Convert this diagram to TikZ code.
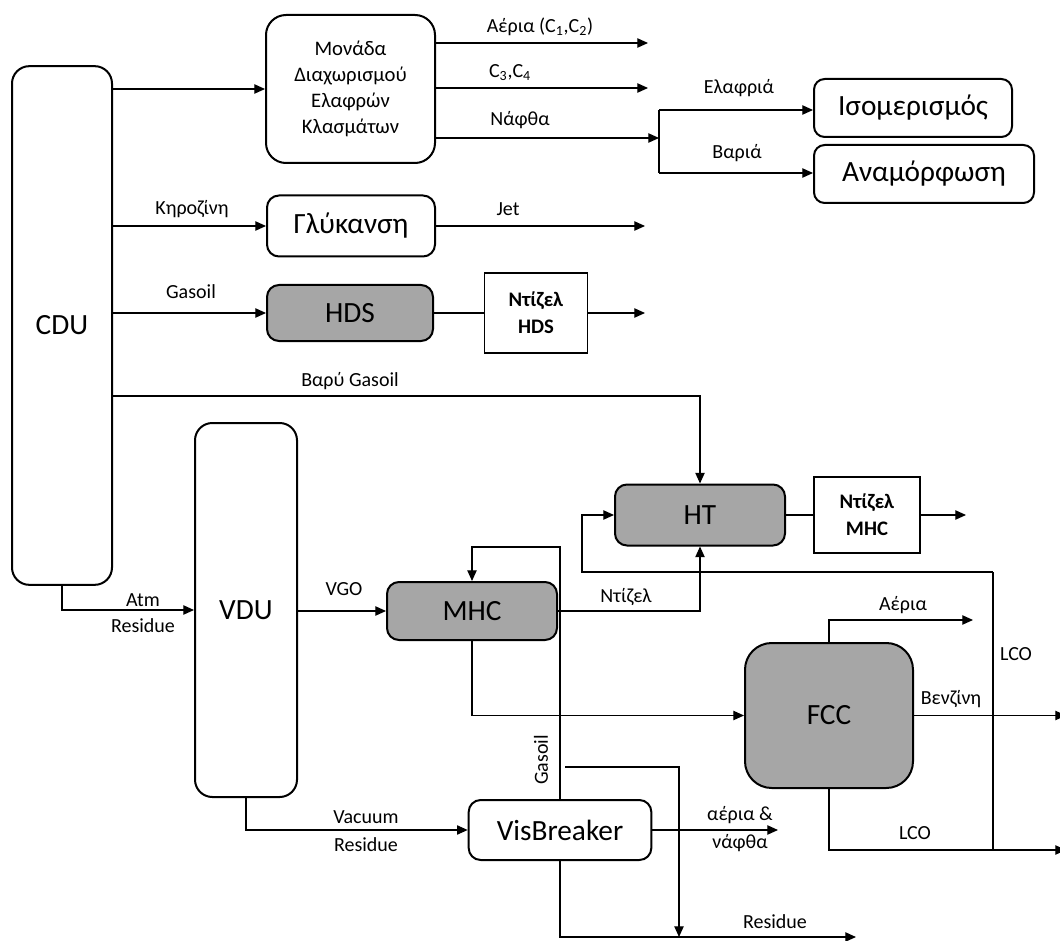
\documentclass[tikz,border=0pt]{standalone}
\usepackage{fontspec}
\setmainfont{Carlito}
\usetikzlibrary{arrows.meta}
\definecolor{unitgray}{RGB}{166,166,166}
\begin{document}
\begin{tikzpicture}[x=0.75pt,y=-0.75pt,
  unit/.style={draw, line width=1.5pt, rounded corners=9pt, inner sep=0pt, align=center, font=\fontsize{22}{26}\selectfont},
  grayunit/.style={unit, fill=unitgray},
  prod/.style={draw, line width=1.4pt, inner sep=0pt, align=center, font=\fontsize{15.5}{20}\selectfont\bfseries},
  lbl/.style={inner sep=0pt, align=center, font=\fontsize{15}{19}\selectfont},
  conn/.style={line width=0.9pt},
  arr/.style={line width=0.9pt, -{Triangle[length=8pt,width=7pt]}}]
\useasboundingbox (0,0) rectangle (1060,941);

% units
\node[unit, rounded corners=13pt, minimum width=75pt, minimum height=389pt] (cdu) at (62,325.5) {CDU};
\node[unit, rounded corners=15pt, minimum width=126.75pt, minimum height=111pt, font=\fontsize{15.5}{19.5}\selectfont] (lfs) at (350.5,89) {Μονάδα\\Διαχωρισμού\\Ελαφρών\\Κλασμάτων};
\node[unit, rounded corners=8pt, minimum width=148.5pt, minimum height=43.5pt] (iso) at (913,108) {Ισομερισμός};
\node[unit, rounded corners=8pt, minimum width=165pt, minimum height=43.5pt] (anam) at (924,174) {Αναμόρφωση};
\node[unit, minimum width=126pt, minimum height=45.75pt] (glyk) at (351,226) {Γλύκανση};
\node[grayunit, minimum width=124.5pt, minimum height=42pt] (hds) at (350,313) {HDS};
\node[prod, minimum width=77.25pt, minimum height=60pt] (dhds) at (536,313) {Ντίζελ\\HDS};
\node[unit, rounded corners=13pt, minimum width=76.5pt, minimum height=280.5pt] (vdu) at (246,610) {VDU};
\node[grayunit, minimum width=127.5pt, minimum height=43.5pt] (mhc) at (472,611) {MHC};
\node[grayunit, minimum width=127.5pt, minimum height=45.75pt] (ht) at (700,515) {HT};
\node[prod, minimum width=79.5pt, minimum height=57pt] (dmhc) at (867,515) {Ντίζελ\\MHC};
\node[grayunit, rounded corners=20pt, minimum width=126pt, minimum height=108.75pt] (fcc) at (829,715.5) {FCC};
\node[unit, minimum width=137pt, minimum height=45pt] (vis) at (560,830) {VisBreaker};

% free ends and bends
\coordinate (gasEnd) at (648,43);
\coordinate (c34End) at (648,88);
\coordinate (nafEnd) at (659,138);
\coordinate (brTop) at (659,110);
\coordinate (brBot) at (659,173);
\coordinate (jetEnd) at (645,226);
\coordinate (dhdsEnd) at (645,313);
\coordinate (hgY) at (0,396);
\coordinate (loopY) at (0,547);
\coordinate (dmhcEnd) at (966,515);
\coordinate (lcoTop) at (993,572);
\coordinate (lcoBot) at (993,850);
\coordinate (lcoL) at (582,572);
\coordinate (aerEnd) at (973,620);
\coordinate (benzEnd) at (1066,715.5);
\coordinate (lcoEnd) at (1066,850);
\coordinate (vgEnd) at (778,830);
\coordinate (gbStart) at (565,767);
\coordinate (gbBend) at (679,767);
\coordinate (gbEnd) at (679,937);
\coordinate (resEnd) at (856,937);

% connectors
\draw[arr] (cdu.east |- lfs.west) -- (lfs.west);
\draw[arr] (lfs.east |- gasEnd) -- (gasEnd);
\draw[arr] (lfs.east |- c34End) -- (c34End);
\draw[arr] (lfs.east |- nafEnd) -- (nafEnd);
\draw[conn] (brTop) -- (brBot);
\draw[arr] (brTop) -- (iso.west |- brTop);
\draw[arr] (brBot) -- (anam.west |- brBot);
\draw[arr] (cdu.east |- glyk.west) -- (glyk.west);
\draw[arr] (glyk.east) -- (jetEnd);
\draw[arr] (cdu.east |- hds.west) -- (hds.west);
\draw[conn] (hds.east) -- (dhds.west);
\draw[arr] (dhds.east) -- (dhdsEnd);
\draw[arr] (cdu.east |- hgY) -- (ht.north |- hgY) -- (ht.north);
\draw[arr] (cdu.south) |- (vdu.west);
\draw[arr] (vdu.east |- mhc.west) -- (mhc.west);
\draw[arr] (vis.north) -- (vis.north |- loopY) -- (mhc.north |- loopY) -- (mhc.north);
\draw[arr] (mhc.east) -- (ht.south |- mhc.east) -- (ht.south);
\draw[conn] (ht.east) -- (dmhc.west);
\draw[arr] (dmhc.east) -- (dmhcEnd);
\draw[line width=1.2pt] (lcoBot) -- (lcoTop);
\draw[arr] (lcoTop) -- (lcoL) |- (ht.west);
\draw[arr] (mhc.south) |- (fcc.west);
\draw[arr] (fcc.north) |- (aerEnd);
\draw[arr] (fcc.east) -- (benzEnd);
\draw[arr] (fcc.south) |- (lcoEnd);
\draw[arr] (vdu.south) |- (vis.west);
\draw[arr] (vis.east) -- (vgEnd);
\draw[arr] (gbStart) -- (gbBend) -- (gbEnd);
\draw[arr] (vis.south) |- (resEnd);

% labels
\node[lbl] (lGas) at (540,27) {Αέρια (C\textsubscript{1},C\textsubscript{2})};
\node[lbl] (lC34) at (510,73) {C\textsubscript{3},C\textsubscript{4}};
\node[lbl] (lNaf) at (520,120) {Νάφθα};
\node[lbl] (lEl) at (739,88) {Ελαφριά};
\node[lbl] (lBar) at (737,153) {Βαριά};
\node[lbl] (lKer) at (192,209) {Κηροζίνη};
\node[lbl] (lJet) at (508,209) {Jet};
\node[lbl] (lGo) at (191,292) {Gasoil};
\node[lbl] (lHgo) at (350,381) {Βαρύ Gasoil};
\node[lbl, font=\fontsize{15}{19.5}\selectfont] (lAtm) at (143,613) {Atm\\Residue};
\node[lbl] (lVgo) at (344,589) {VGO};
\node[lbl] (lDiesel) at (626,597) {Ντίζελ};
\node[lbl] (lAer) at (903,605) {Αέρια};
\node[lbl] (lLco1) at (1016,654) {LCO};
\node[lbl] (lBenz) at (951,699) {Βενζίνη};
\node[lbl] (lLco2) at (915,833) {LCO};
\node[lbl, font=\fontsize{15}{21}\selectfont] (lVac) at (366,831) {Vacuum\\Residue};
\node[lbl, rotate=90] (lGo2) at (541,760) {Gasoil};
\node[lbl, font=\fontsize{15}{21}\selectfont] (lVis) at (740,829) {αέρια \&\\νάφθα};
\node[lbl] (lRes) at (775,922) {Residue};
\end{tikzpicture}
\end{document}
